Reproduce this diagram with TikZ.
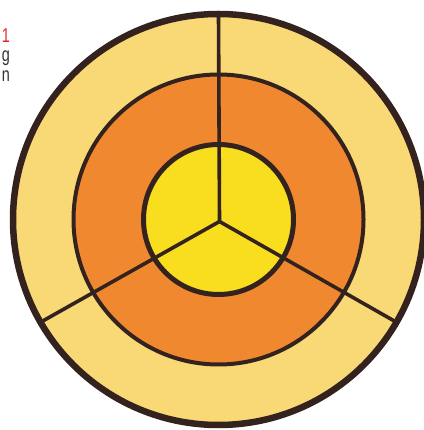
\documentclass[tikz,border=0pt]{standalone}
\usepackage{fontspec}
\usepackage{graphicx}
\usetikzlibrary{calc}
\setmainfont{Liberation Sans}
\definecolor{ringout}{RGB}{249,216,118}
\definecolor{ringmid}{RGB}{240,136,48}
\definecolor{ringin}{RGB}{248,222,30}
\definecolor{edge}{RGB}{52,34,30}
\definecolor{redtxt}{RGB}{230,40,40}
\definecolor{graytxt}{RGB}{50,50,50}
\newcommand{\narrowtxt}[1]{\scalebox{0.72}[1]{#1}}
\begin{document}
\begin{tikzpicture}[x=1pt,y=1pt,
  ringline/.style={draw=edge},
  spoke/.style={draw=edge,line width=3.6pt},
  frag/.style={anchor=base east,inner sep=0pt,font=\fontsize{20}{22}\selectfont}]
\useasboundingbox (0,0) rectangle (423,430);
\fill[white] (0,0) rectangle (423,430);
\coordinate (C) at (218.5,210.5);
\fill[ringout] (C) circle (205.5);
\fill[ringmid] (C) circle (145);
\fill[ringin] (C) circle (75);
\coordinate (H) at (219.5,208.5);
\coordinate (S1) at ($(C)+(90:205)$);
\coordinate (S2) at ($(C)+(210:205)$);
\coordinate (S3) at ($(C)+(330:205)$);
\draw[spoke] (H) -- (S1);
\draw[spoke] (H) -- (S2);
\draw[spoke] (H) -- (S3);
\draw[ringline,line width=5pt] (C) circle (75);
\draw[ringline,line width=4pt] (C) circle (145);
\draw[ringline,line width=6.5pt] (C) circle (205.5);
\node[frag,text=redtxt] (t1) at (10,387) {\narrowtxt{1}};
\node[frag,text=graytxt] (t2) at (10,368) {\narrowtxt{g}};
\node[frag,text=graytxt] (t3) at (10,348) {\narrowtxt{n}};
\end{tikzpicture}
\end{document}
